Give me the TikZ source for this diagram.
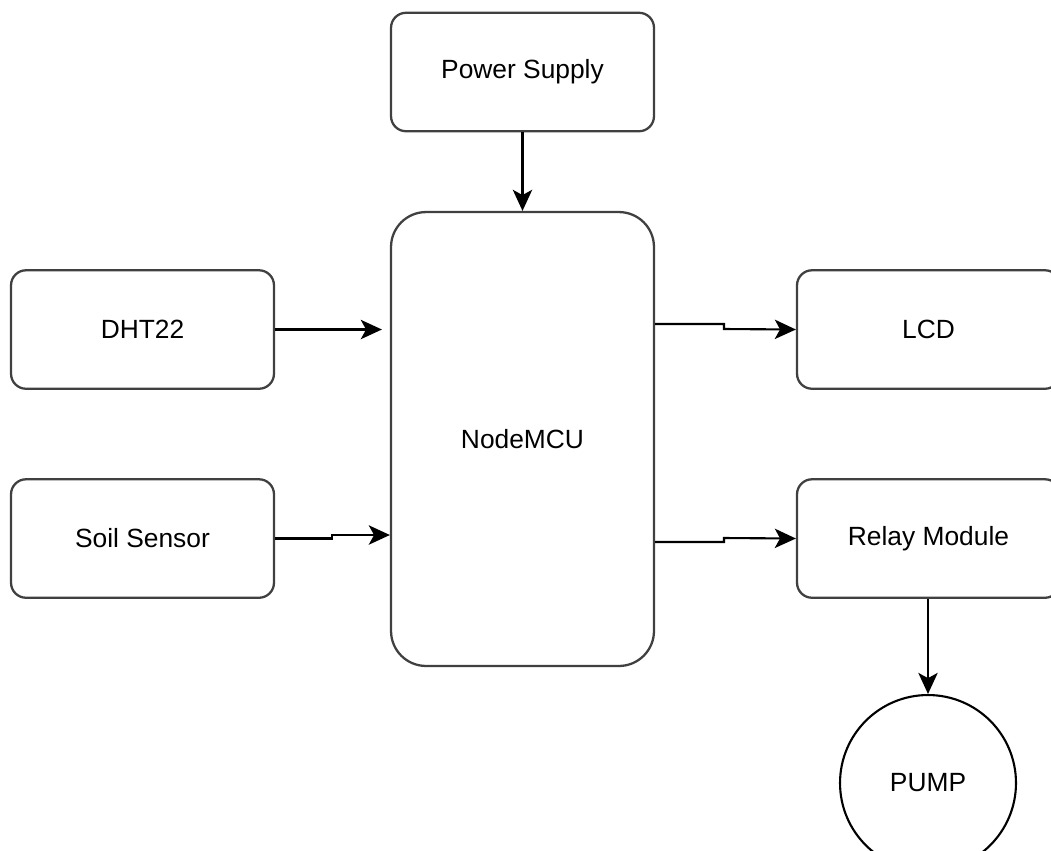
\documentclass[tikz,border=0pt]{standalone}
\usepackage{fontspec}
\setmainfont{Liberation Sans}
\usetikzlibrary{arrows.meta,shapes.geometric,calc}
\begin{document}
\begin{tikzpicture}[x=0.02cm,y=-0.02cm,
  lbl/.style={font=\fontsize{15}{18}\selectfont},
  blk/.style={lbl,draw=black!75,line width=1.3pt,rounded corners=0.3cm,minimum width=5.26cm,minimum height=2.37cm,inner sep=0pt},
  conn/.style={draw=black,line width=1.2pt,-{Stealth[length=12pt,width=11pt,inset=3pt]}}]
\useasboundingbox (0,0) rectangle (1051,850);
\clip (0,0) rectangle (1051,850);
\node[blk] (ps) at (522.5,72) {Power Supply};
\node[blk,rounded corners=0.7cm,minimum height=9.08cm] (mcu) at (522.5,439) {NodeMCU};
\node[blk] (dht) at (142.5,329.5) {DHT22};
\node[blk] (soil) at (142.5,538.5) {Soil Sensor};
\node[blk] (lcd) at (928.5,329.5) {LCD};
\node[blk] (relay) at (928.5,538.5) {Relay Module};
\node[lbl,draw=black,line width=1.2pt,circle,minimum size=3.52cm,inner sep=0pt] (pump) at (928,783) {PUMP};
\coordinate (sj) at (332,535);
\coordinate (lj) at (724,324);
\coordinate (rj) at (724,542);
\draw[conn] (ps.south) -- (mcu.north);
\draw[conn,shorten >=8*0.02cm] (dht.east) -- (dht.east -| mcu.west);
\draw[conn] (soil.east) -- (sj |- soil.east) -- (sj) -- (sj -| mcu.west);
\draw[conn] (lj -| mcu.east) -- (lj) -- ++(0,5) -- (lcd.west);
\draw[conn] (rj -| mcu.east) -- (rj) -- ++(0,-4) -- (relay.west);
\draw[conn] (relay.south -| pump.north) -- (pump.north);
\end{tikzpicture}
\end{document}
